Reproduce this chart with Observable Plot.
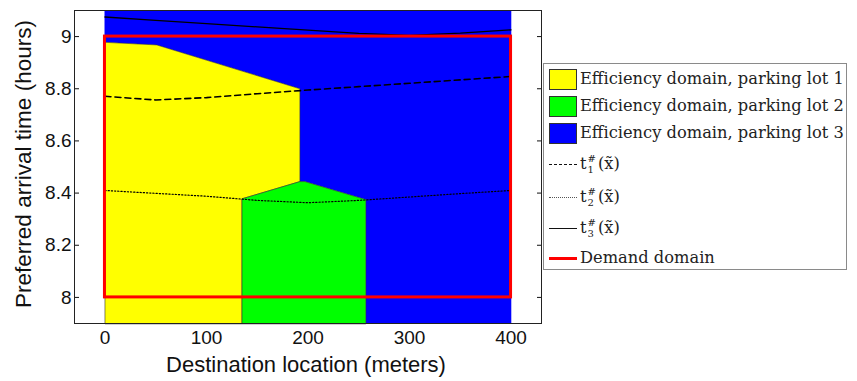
<!DOCTYPE html>
<html><head><meta charset="utf-8">
<script src="https://cdn.jsdelivr.net/npm/d3@7"></script>
<script src="https://cdn.jsdelivr.net/npm/@observablehq/plot@0.6"></script>
<style>
body{margin:0;background:#fff;}
#wrap{position:relative;width:857px;height:381px;overflow:hidden;}
#wrap svg{position:absolute;left:0;top:0;}
.title{position:absolute;font-family:"Liberation Sans",Arial,sans-serif;font-size:21px;color:#111;white-space:nowrap;line-height:1;}
#xtitle{left:306px;top:365px;transform:translate(-50%,-50%);}
#ytitle{left:24px;top:164px;transform:translate(-50%,-50%) rotate(-90deg);}
#legend{position:absolute;left:543px;top:63px;width:304px;height:207px;border:1px solid #8a8a8a;background:#fff;font-family:"DejaVu Serif","Liberation Serif",serif;color:#222;box-sizing:border-box;}
.row{position:absolute;left:5px;height:26px;display:flex;align-items:center;}
.sw{width:28px;height:21px;box-sizing:border-box;border:1px solid #333;margin-right:3px;flex:none;}
.ln{width:28px;height:0;margin-right:3px;flex:none;}
.txt{white-space:nowrap;font-size:16px;line-height:1.1;}
.math{display:inline-flex;align-items:center;}
.stack{display:inline-flex;flex-direction:column;align-items:flex-start;margin-left:1px;margin-right:2px;}
.stack span{font-size:10px;line-height:11px;height:11px;display:block;}
</style></head><body>
<div id="wrap">
  <div class="title" id="xtitle">Destination location (meters)</div>
  <div class="title" id="ytitle">Preferred arrival time (hours)</div>
</div>
<script>
// axis ticks
const xTicks = [0, 100, 200, 300, 400];
const yTicks = [8, 8.2, 8.4, 8.6, 8.8, 9];
const xDomain = [-30, 430];
const yDomain = [7.9, 9.1];

// efficiency domain polygons (vertices)
const lot1X = [0, 0, 51, 192, 192, 135, 135];
const lot1Y = [7.9, 8.978, 8.968, 8.80, 8.444, 8.378, 7.9];
const lot2X = [135, 135, 192, 197, 257, 257];
const lot2Y = [7.9, 8.378, 8.444, 8.444, 8.375, 7.9];
const lot3X = [0, 400, 400, 257, 257, 197, 192, 192, 51, 0];
const lot3Y = [9.1, 9.1, 7.9, 7.9, 8.375, 8.444, 8.444, 8.80, 8.968, 8.978];

// t#_i(x~) curves
const curveX = [0, 50, 100, 150, 200, 250, 300, 350, 400];
const t1 = [8.771, 8.757, 8.766, 8.781, 8.795, 8.808, 8.821, 8.834, 8.847];
const t2 = [8.410, 8.399, 8.388, 8.372, 8.363, 8.372, 8.385, 8.398, 8.410];
const t3 = [9.075, 9.062, 9.050, 9.037, 9.025, 9.012, 9.005, 9.013, 9.026];

// demand domain
const demandX = [0, 400];
const demandY = [8, 9];

const pts = (xs, ys) => xs.map((x, i) => ({x, y: ys[i]}));

const plot = Plot.plot({
  width: 857, height: 381,
  marginLeft: 74, marginRight: 316, marginTop: 10, marginBottom: 58,
  x: {domain: xDomain, label: null},
  y: {domain: yDomain, label: null},
  style: {fontFamily: "'Liberation Sans', Arial, sans-serif", fontSize: "19px", color: "#111", background: "white"},
  marks: [
    Plot.axisY(yTicks, {anchor: "left", tickSize: 5, dx: 5, text: null, label: null}),
    Plot.axisY(yTicks, {anchor: "right", tickSize: 5, dx: -5, text: null, label: null}),
    Plot.axisY(yTicks, {anchor: "left", tickSize: 0, tickPadding: 3, label: null, tickFormat: d => String(d), fontSize: 19}),
    Plot.axisX(xTicks, {anchor: "bottom", tickSize: 0, tickPadding: 7, label: null, fontSize: 19}),
    Plot.line(pts(lot3X, lot3Y), {x: "x", y: "y", fill: "#0000ff", stroke: "#0000ff", strokeWidth: 0.5, curve: "linear-closed"}),
    Plot.line(pts(lot1X, lot1Y), {x: "x", y: "y", fill: "#ffff00", stroke: "#333", strokeWidth: 0.6, curve: "linear-closed"}),
    Plot.line(pts(lot2X, lot2Y), {x: "x", y: "y", fill: "#00ff00", stroke: "#333", strokeWidth: 0.6, curve: "linear-closed"}),
    Plot.line(pts(curveX, t1), {x: "x", y: "y", stroke: "black", strokeWidth: 1.6, strokeDasharray: "6,4"}),
    Plot.line(pts(curveX, t2), {x: "x", y: "y", stroke: "black", strokeWidth: 1.2, strokeDasharray: "1.2,2"}),
    Plot.line(pts(curveX, t3), {x: "x", y: "y", stroke: "black", strokeWidth: 1.3}),
    Plot.rect([{}], {x1: () => demandX[0], x2: () => demandX[1], y1: () => demandY[0], y2: () => demandY[1], fill: "none", stroke: "#ff0000", strokeWidth: 3}),
    Plot.frame({stroke: "#222", strokeWidth: 1})
  ]
});
document.getElementById("wrap").prepend(plot);

// legend
const legendItems = [
  {kind: "swatch", color: "#ffff00", label: "Efficiency domain, parking lot 1"},
  {kind: "swatch", color: "#00ff00", label: "Efficiency domain, parking lot 2"},
  {kind: "swatch", color: "#0000ff", label: "Efficiency domain, parking lot 3"},
  {kind: "line", dash: "dashed", width: 1.5, color: "#111", sub: "1"},
  {kind: "line", dash: "dotted", width: 1, color: "#555", sub: "2"},
  {kind: "line", dash: "solid", width: 1.5, color: "#111", sub: "3"},
  {kind: "line", dash: "solid", width: 3, color: "#ff0000", label: "Demand domain"}
];
const rowTops = [2, 29, 56, 87, 120, 151, 181];
const legend = document.createElement("div");
legend.id = "legend";
legendItems.forEach((it, i) => {
  const row = document.createElement("div");
  row.className = "row";
  row.style.top = rowTops[i] + "px";
  const mark = document.createElement("div");
  if (it.kind === "swatch") {
    mark.className = "sw";
    mark.style.background = it.color;
  } else {
    mark.className = "ln";
    mark.style.borderTop = `${it.width}px ${it.dash} ${it.color}`;
  }
  row.appendChild(mark);
  const t = document.createElement("span");
  t.className = "txt";
  if (it.sub) {
    t.innerHTML = `<span class="math"><span>t</span><span class="stack"><span>#</span><span>${it.sub}</span></span><span>(x̃)</span></span>`;
  } else {
    t.textContent = it.label;
  }
  row.appendChild(t);
  legend.appendChild(row);
});
document.getElementById("wrap").appendChild(legend);

// fit text widths to the reference's measured extents
function fit(el, target) {
  const w = el.getBoundingClientRect().width;
  const fs = parseFloat(getComputedStyle(el).fontSize);
  return fs * target / w;
}
const firstTxt = legend.querySelector(".txt");
const lfs = fit(firstTxt, 264);
legend.querySelectorAll(".txt").forEach(e => e.style.fontSize = lfs + "px");
const xt = document.getElementById("xtitle");
xt.style.fontSize = fit(xt, 280) + "px";
const yt = document.getElementById("ytitle");
yt.style.fontSize = (parseFloat(getComputedStyle(yt).fontSize) * 288 / yt.offsetWidth) + "px";
</script>
</body></html>
